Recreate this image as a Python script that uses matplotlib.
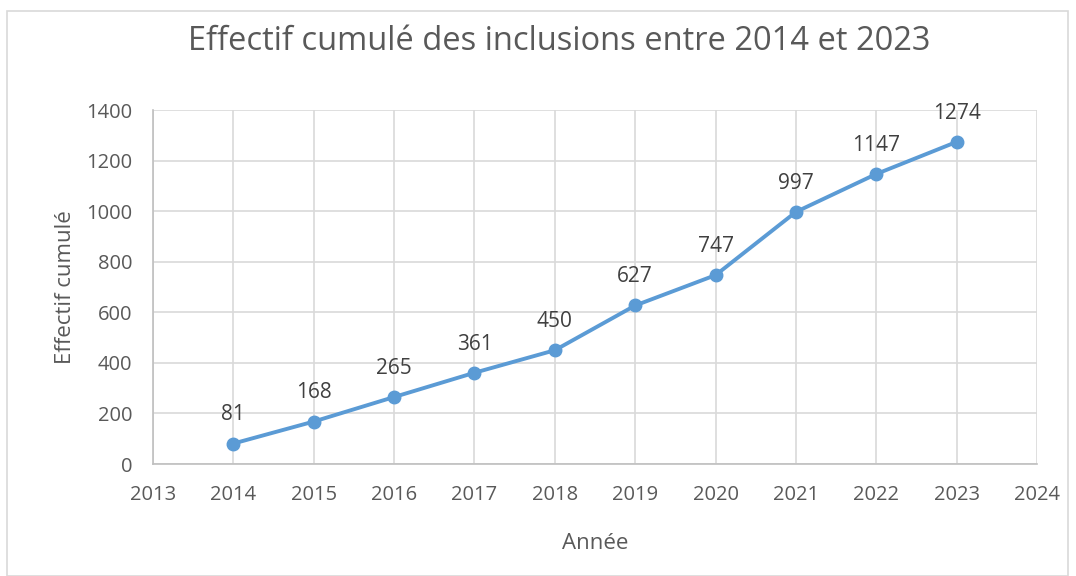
import matplotlib.pyplot as plt
from matplotlib.patches import Rectangle

# Données
annees = [2014, 2015, 2016, 2017, 2018, 2019, 2020, 2021, 2022, 2023]
effectif = [81, 168, 265, 361, 450, 627, 747, 997, 1147, 1274]
x_ticks = list(range(2013, 2025))
y_ticks = list(range(0, 1401, 200))

plt.rcParams['font.family'] = ['Open Sans', 'DejaVu Sans']

fig = plt.figure(figsize=(10.76, 5.76), dpi=100)
ax = fig.add_axes([0.1422, 0.1944, 0.8216, 0.6146])

# cadre du graphique
fig.patches.append(Rectangle((7 / 1076, 0), 1061 / 1076, 1 - 11 / 576,
                             transform=fig.transFigure, fill=False,
                             edgecolor='#d9d9d9', lw=1.2))

ax.plot(annees, effectif, '-o', color='#5b9bd5', lw=2.8, markersize=9, zorder=3)
for a, v in zip(annees, effectif):
    ax.annotate(str(v), (a, v), xytext=(0, 13), textcoords='offset points',
                ha='center', va='bottom', fontsize=15, color='#404040')

ax.set_xlim(2013, 2024)
ax.set_ylim(0, 1400)
ax.set_xticks(x_ticks)
ax.set_yticks(y_ticks)
ax.grid(True, color='#d9d9d9', lw=1.2)
ax.set_axisbelow(True)
for s in ['top', 'right']:
    ax.spines[s].set_visible(False)
for s in ['left', 'bottom']:
    ax.spines[s].set_color('#bfbfbf')
    ax.spines[s].set_linewidth(1.2)
ax.tick_params(length=0, labelsize=14.5, colors='#595959')
ax.tick_params(axis='x', pad=15)
ax.tick_params(axis='y', pad=15)

ax.set_xlabel('Année', fontsize=16, color='#595959', labelpad=20)
ax.set_ylabel('Effectif cumulé', fontsize=16, color='#595959', labelpad=7)
fig.text(559 / 1076, 1 - 42 / 576, 'Effectif cumulé des inclusions entre 2014 et 2023',
         ha='center', va='center', fontsize=23.5, color='#595959')

fig.savefig('out.png', dpi=100)
